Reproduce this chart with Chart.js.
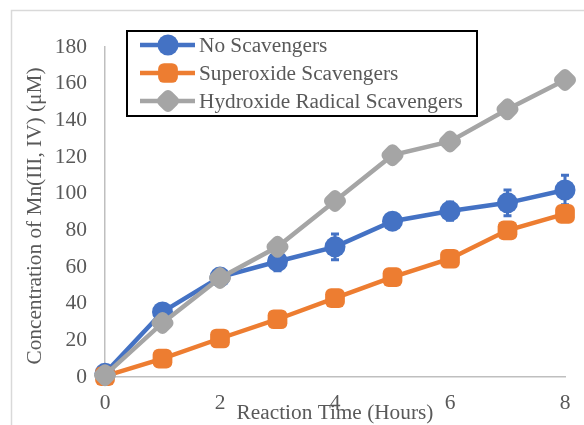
<!DOCTYPE html>
<html>
<head>
<meta charset="utf-8">
<script src="https://cdn.jsdelivr.net/npm/chart.js@4/dist/chart.umd.min.js"></script>
<style>
  html, body { margin: 0; padding: 0; background: #fff; }
  canvas { display: block; }
</style>
</head>
<body>
<canvas id="chart" width="584" height="425"></canvas>
<script>
const hours = [0, 1, 2, 3, 4, 5, 6, 7, 8];
const noScavengers = [2, 35.5, 54.5, 63, 71, 85, 90.5, 95, 102];
const noScavengersErr = [1, 2, 2, 5, 7, 3, 5, 7, 8];
const superoxide = [0.5, 10, 21, 31.5, 43, 54.5, 64.5, 80, 89];
const hydroxide = [1, 29.5, 54, 71, 96, 121, 128.5, 146, 162];
const yTicks = [0, 20, 40, 60, 80, 100, 120, 140, 160, 180];
const xTicks = [0, 2, 4, 6, 8];

const seriesNames = ['No Scavengers', 'Superoxide Scavengers', 'Hydroxide Radical Scavengers'];
const xTitle = 'Reaction Time (Hours)';
const yTitle = 'Concentration of Mn(III, IV) (\u03bcM)';

const FONT = '"Liberation Serif", "Times New Roman", serif';
const TEXT = '#595959';

const toPoints = vals => vals.map((v, i) => ({ x: hours[i], y: v }));

// light frame around the whole chart
const frame = {
  id: 'frame',
  beforeDraw(chart) {
    const ctx = chart.ctx;
    ctx.save();
    ctx.strokeStyle = '#d9d9d9';
    ctx.lineWidth = 1.5;
    ctx.strokeRect(11.5, 10.5, 700, 600);
    ctx.restore();
  }
};

// vertical error bars for the first series
const errorBars = {
  id: 'errorBars',
  beforeDatasetDraw(chart, args) {
    if (args.index !== 0) return;
    const ctx = chart.ctx;
    const xs = chart.scales.x, ys = chart.scales.y;
    ctx.save();
    ctx.strokeStyle = '#4472C4';
    ctx.lineWidth = 3;
    noScavengers.forEach((v, i) => {
      const e = noScavengersErr[i];
      const px = xs.getPixelForValue(hours[i]);
      const top = ys.getPixelForValue(v + e);
      const bot = ys.getPixelForValue(v - e);
      ctx.beginPath();
      ctx.moveTo(px, top); ctx.lineTo(px, bot);
      ctx.moveTo(px - 4, top); ctx.lineTo(px + 4, top);
      ctx.moveTo(px - 4, bot); ctx.lineTo(px + 4, bot);
      ctx.stroke();
    });
    ctx.restore();
  }
};

// axis titles, drawn where Excel put them
const axisTitles = {
  id: 'axisTitles',
  afterDraw(chart) {
    const ctx = chart.ctx;
    const area = chart.chartArea;
    ctx.save();
    ctx.fillStyle = TEXT;
    ctx.font = '21.3px ' + FONT;
    ctx.textAlign = 'center';
    ctx.textBaseline = 'middle';
    ctx.fillText(xTitle, 335, area.bottom + 36);
    ctx.translate(35, 216);
    ctx.rotate(-Math.PI / 2);
    ctx.fillText(yTitle, 0, 0);
    ctx.restore();
  }
};

// boxed legend inside the plot
const boxLegend = {
  id: 'boxLegend',
  afterDraw(chart) {
    const ctx = chart.ctx;
    const left = 127, top = 31, w = 350, h = 85;
    ctx.save();
    ctx.fillStyle = '#fff';
    ctx.fillRect(left, top, w, h);
    ctx.strokeStyle = '#000';
    ctx.lineWidth = 2;
    ctx.strokeRect(left, top, w, h);
    chart.data.datasets.forEach((ds, i) => {
      const y = top + 14 + i * 28;
      ctx.strokeStyle = ds.borderColor;
      ctx.lineWidth = ds.borderWidth;
      ctx.beginPath();
      ctx.moveTo(140, y); ctx.lineTo(195, y);
      ctx.stroke();
      ctx.fillStyle = ds.pointBackgroundColor;
      Chart.helpers.drawPoint(ctx, {
        pointStyle: ds.pointStyle, radius: ds.pointRadius,
        rotation: ds.pointRotation || 0, borderWidth: 0
      }, 168, y);
      ctx.fillStyle = TEXT;
      ctx.font = '21.3px ' + FONT;
      ctx.textAlign = 'left';
      ctx.textBaseline = 'middle';
      ctx.fillText(ds.label, 199, y + 1);
    });
    ctx.restore();
  }
};

new Chart(document.getElementById('chart'), {
  type: 'line',
  data: {
    datasets: [
      {
        label: seriesNames[0], data: toPoints(noScavengers), order: 3, clip: false,
        borderColor: '#4472C4', backgroundColor: '#4472C4', pointBackgroundColor: '#4472C4',
        borderWidth: 4.5, pointStyle: 'circle', pointRadius: 10.5, pointBorderWidth: 0
      },
      {
        label: seriesNames[1], data: toPoints(superoxide), order: 2, clip: false,
        borderColor: '#ED7D31', backgroundColor: '#ED7D31', pointBackgroundColor: '#ED7D31',
        borderWidth: 4.5, pointStyle: 'rectRounded', pointRadius: 11.5, pointBorderWidth: 0
      },
      {
        label: seriesNames[2], data: toPoints(hydroxide), order: 1, clip: false,
        borderColor: '#A5A5A5', backgroundColor: '#A5A5A5', pointBackgroundColor: '#A5A5A5',
        borderWidth: 4.5, pointStyle: 'rectRounded', pointRotation: 45, pointRadius: 11, pointBorderWidth: 0
      }
    ]
  },
  options: {
    responsive: false,
    animation: false,
    layout: { padding: { left: 0, top: 47, right: 19, bottom: 0 } },
    plugins: {
      legend: { display: false },
      tooltip: { enabled: false }
    },
    scales: {
      x: {
        type: 'linear', min: 0, max: 8,
        afterBuildTicks: s => { s.ticks = xTicks.map(v => ({ value: v })); },
        afterFit: s => { s.height = 48; },
        grid: { display: false, drawTicks: false },
        border: { display: true, color: '#bfbfbf', width: 1.5 },
        ticks: { padding: 13, color: TEXT, font: { family: FONT, size: 21.5 }, maxRotation: 0 }
      },
      y: {
        min: 0, max: 180,
        afterBuildTicks: s => { s.ticks = yTicks.map(v => ({ value: v })); },
        afterFit: s => { s.width = 105; },
        grid: { display: false, drawTicks: false },
        border: { display: true, color: '#bfbfbf', width: 1.5 },
        ticks: { padding: 18, color: TEXT, font: { family: FONT, size: 21.5 } }
      }
    }
  },
  plugins: [frame, errorBars, axisTitles, boxLegend]
});
</script>
</body>
</html>
